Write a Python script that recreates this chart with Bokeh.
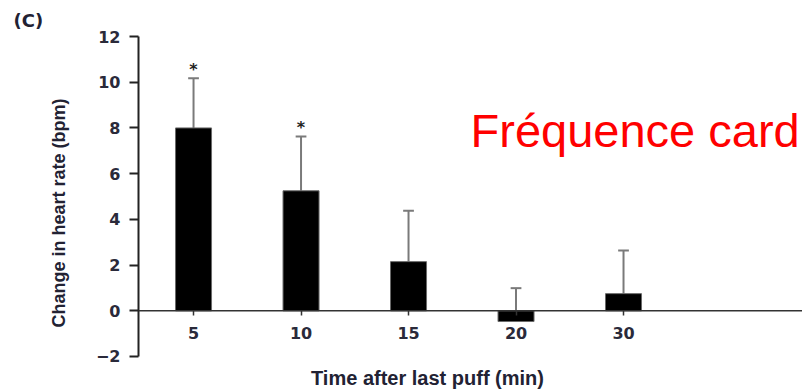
from bokeh.plotting import figure
from bokeh.models import Range1d, FixedTicker, Label, ColumnDataSource, Title, Span
from bokeh.core.properties import value
from bokeh.embed import file_html
from bokeh.resources import INLINE

# ---- data ----
categories = ["5", "10", "15", "20", "30"]
mean_change = [8.0, 5.25, 2.15, -0.47, 0.75]
error = [2.17, 2.38, 2.23, 1.46, 1.89]
signif = ["*", "*", "", "", ""]
y_ticks = [-2, 0, 2, 4, 6, 8, 10, 12]

xs = list(range(len(categories)))
upper = [m + e for m, e in zip(mean_change, error)]
cap_half = 0.05
src = ColumnDataSource(dict(
    x=xs, top=mean_change, upper=upper, sig=signif,
    cl=[x - cap_half for x in xs], cr=[x + cap_half for x in xs],
))

x_start, x_end = -0.512, 5.665
y_axis_min, y_axis_max = -2, 12
p = figure(width=802, height=389,
           x_range=Range1d(x_start, x_end), y_range=Range1d(-3.444, y_axis_max),
           output_backend="svg", toolbar_location=None,
           min_border_left=138, min_border_right=0,
           min_border_top=36, min_border_bottom=0)
p.background_fill_color = "white"
p.border_fill_color = "white"
p.outline_line_color = None
p.xgrid.visible = False
p.ygrid.visible = False

# zero line across the whole frame
p.add_layout(Span(location=0, dimension="width", line_color="#333333",
                  line_width=1.5))

# error bars (under bars)
p.segment(x0="x", y0="top", x1="x", y1="upper", source=src,
          line_color="#7a7a7a", line_width=2)
p.segment(x0="cl", y0="upper", x1="cr", y1="upper", source=src,
          line_color="#7a7a7a", line_width=2)
# bars
p.vbar(x="x", top="top", bottom=0, width=0.335, source=src,
       fill_color="black", line_color="#6a6a6a", line_width=1)
# significance stars
p.text(x="x", y="upper", text="sig", source=src,
       text_font=value("DejaVu Sans"), text_font_style="bold",
       text_font_size="16px", text_align="center",
       text_baseline="alphabetic", y_offset=-9, text_color="#222222")

# x axis at zero
xa = p.xaxis[0]
xa.fixed_location = 0
xa.bounds = (x_start, 4.864)
xa.ticker = FixedTicker(ticks=xs)
xa.major_label_overrides = {i: c for i, c in enumerate(categories)}
xa.axis_line_color = None
xa.major_tick_line_color = "#333333"
xa.major_tick_line_width = 1.5
xa.major_tick_out = 5
xa.major_tick_in = 0
xa.minor_tick_line_color = None
xa.major_label_standoff = 11
xa.major_label_text_font = "DejaVu Sans"
xa.major_label_text_font_style = "bold"
xa.major_label_text_font_size = "16px"
xa.major_label_text_color = "#2a2a3a"
xa.axis_label = "Time after last puff (min)"
xa.axis_label_text_font = "Liberation Sans"
xa.axis_label_text_font_style = "bold"
xa.axis_label_text_font_size = "20px"
xa.axis_label_text_color = "#222233"
xa.axis_label_standoff = 25

ya = p.yaxis[0]
ya.bounds = (y_axis_min, y_axis_max)
ya.ticker = FixedTicker(ticks=y_ticks)
ya.axis_line_color = "#222222"
ya.axis_line_width = 2
ya.major_tick_line_color = "#222222"
ya.major_tick_line_width = 2
ya.major_tick_out = 9
ya.major_tick_in = 0
ya.minor_tick_line_color = None
ya.major_label_standoff = 9
ya.major_label_text_font = "DejaVu Sans"
ya.major_label_text_font_style = "bold"
ya.major_label_text_font_size = "16px"
ya.major_label_text_color = "#2a2a3a"
ya.axis_label = "Change in heart rate (bpm)"
ya.axis_label_text_font = "Liberation Sans"
ya.axis_label_text_font_style = "bold"
ya.axis_label_text_font_size = "18px"
ya.axis_label_text_color = "#222233"
ya.axis_label_standoff = 24

# title / annotation
p.add_layout(Title(text="(C)", align="left", offset=-125, standoff=12,
                   text_font="DejaVu Sans", text_font_style="bold",
                   text_font_size="18px", text_color="#222233"), "above")
p.add_layout(Label(x=2.577, y=7.90, text="Fréquence card",
                   text_font="Liberation Sans", text_font_size="47px",
                   text_align="left", text_baseline="alphabetic",
                   text_color="#ff0000"))

open("out.html", "w").write(file_html(p, INLINE))
